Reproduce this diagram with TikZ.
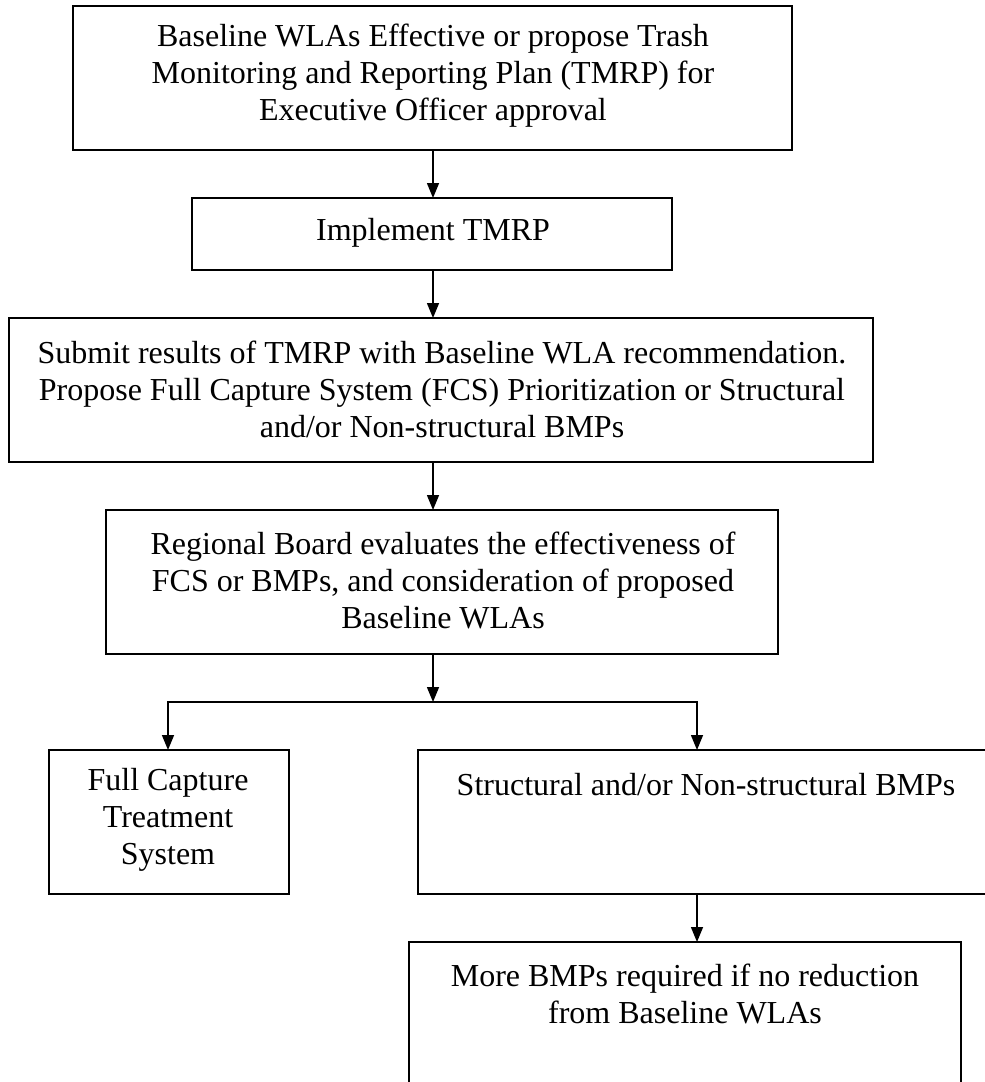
\documentclass[tikz,border=0pt]{standalone}
\usepackage{fontspec}
\setmainfont{Liberation Serif}
\usetikzlibrary{arrows.meta}
\begin{document}
\begin{tikzpicture}[x=1pt,y=-1pt,
  box/.style={draw, line width=1.5pt, inner sep=0pt, outer sep=0pt},
  txt/.style={align=center, inner sep=0pt, font=\fontsize{32}{37}\selectfont},
  ln/.style={line width=1.5pt},
  arr/.style={line width=1.5pt, -{Triangle[width=12pt,length=15pt]}}]
\useasboundingbox (0,0) rectangle (985,1082);
% boxes
\node[box, minimum width=719, minimum height=144] (b1) at (432.5,78) {};
\node[box, minimum width=480, minimum height=72]  (b2) at (432,234) {};
\node[box, minimum width=864, minimum height=144] (b3) at (441,390) {};
\node[box, minimum width=672, minimum height=144] (b4) at (442,582) {};
\node[box, minimum width=240, minimum height=144] (b5) at (169,822) {};
\node[box, minimum width=576, minimum height=144] (b6) at (706,822) {};
\node[box, minimum width=552, minimum height=144] (b7) at (685,1014) {};
% texts
\node[txt] (t1) at (433,76) {Baseline WLAs Effective or propose Trash\\Monitoring and Reporting Plan (TMRP) for\\Executive Officer approval};
\node[txt] (t2) at (433,233) {Implement TMRP};
\node[txt] (t3) at (442,389) {Submit results of TMRP with Baseline WLA recommendation.\\Propose Full Capture System (FCS) Prioritization or Structural\\and/or Non-structural BMPs};
\node[txt] (t4) at (443,580) {Regional Board evaluates the effectiveness of\\FCS or BMPs, and consideration of proposed\\Baseline WLAs};
\node[txt] (t5) at (168,820) {Full Capture\\Treatment\\System};
\node[txt] (t6) at (706,785) {Structural and/or Non-structural BMPs};
\node[txt] (t7) at (685,994) {More BMPs required if no reduction\\from Baseline WLAs};
% connector coordinates
\coordinate (ax) at (433,0);
\coordinate (jm) at (433,702);
\coordinate (jl) at (168,702);
\coordinate (jr) at (697,702);
% connectors
\draw[arr] (b1.south -| ax) -- (b2.north -| ax);
\draw[arr] (b2.south -| ax) -- (b3.north -| ax);
\draw[arr] (b3.south -| ax) -- (b4.north -| ax);
\draw[arr] (b4.south -| ax) -- (jm);
\draw[arr] (jm) -| (jl |- b5.north);
\draw[arr] (jm) -| (jr |- b6.north);
\draw[arr] (b6.south -| jr) -- (jr |- b7.north);
\end{tikzpicture}
\end{document}
